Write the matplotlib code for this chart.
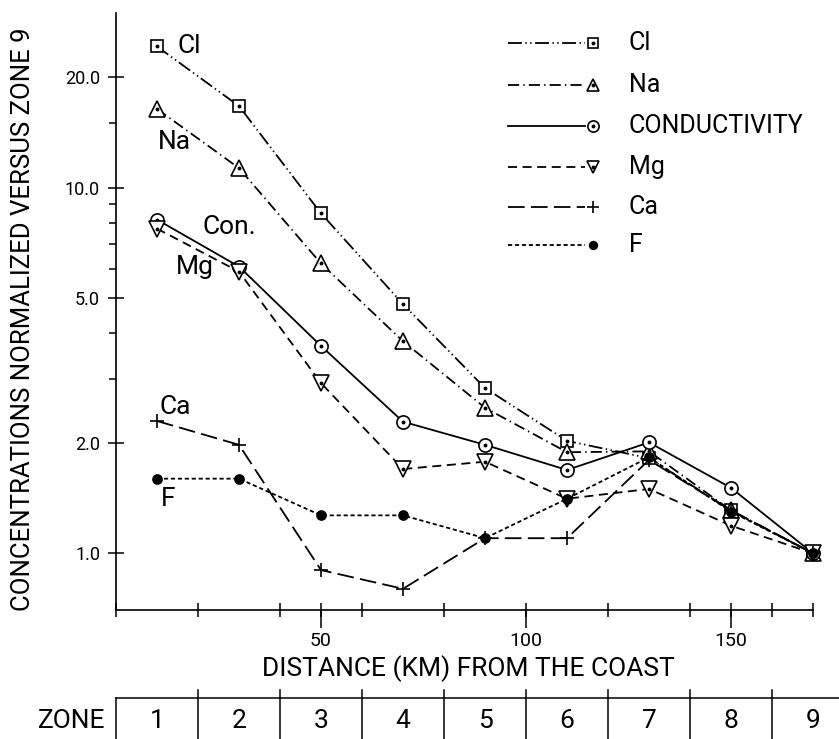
#!/usr/bin/env python3
"""
Concentrations normalized versus zone 9 against distance from the coast.
"""
import matplotlib
matplotlib.use('Agg')  # Non-interactive backend
import matplotlib.pyplot as plt
from matplotlib.lines import Line2D
from matplotlib.ticker import NullFormatter
from matplotlib.transforms import blended_transform_factory

# Data
distance = [10, 30, 50, 70, 90, 110, 130, 150, 170]
cl = [24.3, 16.7, 8.5, 4.8, 2.83, 2.03, 1.82, 1.31, 1.0]
na = [16.4, 11.3, 6.2, 3.8, 2.5, 1.89, 1.9, 1.31, 1.0]
cond = [8.17, 6.08, 3.69, 2.29, 1.98, 1.69, 2.01, 1.51, 1.0]
mg = [7.72, 5.89, 2.92, 1.70, 1.78, 1.41, 1.50, 1.19, 1.0]
ca = [2.30, 1.98, 0.90, 0.80, 1.10, 1.10, 1.80, 1.31, 1.0]
f = [1.60, 1.60, 1.27, 1.27, 1.10, 1.41, 1.83, 1.30, 1.0]

names = ['Cl', 'Na', 'CONDUCTIVITY', 'Mg', 'Ca', 'F']
short_names = ['Cl', 'Na', 'Con.', 'Mg', 'Ca', 'F']

zone_names = ['1', '2', '3', '4', '5', '6', '7', '8', '9']
zone_edges = [0, 20, 40, 60, 80, 100, 120, 140, 160]

y_major = [1, 2, 5, 10, 20]
y_major_labels = ['1.0', '2.0', '5.0', '10.0', '20.0']
y_minor = [3, 4, 6, 7, 8, 9, 15]
x_major = [50, 100, 150]
x_minor = [0, 20, 40, 50, 60, 80, 100, 120, 140, 150, 160, 170]

plt.rcParams['font.family'] = ['Roboto', 'DejaVu Sans']
plt.rcParams['lines.scale_dashes'] = False

W, H = 839, 739


def fx(px):
    return px / W


def fy(py):
    return 1 - py / H


fig = plt.figure(figsize=(W / 100, H / 100), dpi=100)
ax = fig.add_axes([fx(116), fy(610), fx(813) - fx(116), fy(13) - fy(610)])
ax.set_yscale('log')
ax.set_xlim(0, 170)
ax.set_ylim(0.7, 30)

for side in ['top', 'right']:
    ax.spines[side].set_visible(False)
for side in ['left', 'bottom']:
    ax.spines[side].set_linewidth(1.2)

ax.set_yticks(y_major)
ax.set_yticklabels(y_major_labels)
ax.set_yticks(y_minor, minor=True)
ax.yaxis.set_minor_formatter(NullFormatter())
ax.set_xticks(x_major)
ax.set_xticks(x_minor, minor=True)
ax.xaxis.remove_overlapping_locs = False
ax.tick_params(axis='y', which='major', direction='inout', length=12, width=1.1,
               pad=5.5, labelsize=13)
ax.tick_params(axis='y', which='minor', direction='out', length=5, width=1.1)
ax.tick_params(axis='x', which='major', direction='out', length=13, width=1.1,
               pad=3, labelsize=14)
ax.tick_params(axis='x', which='minor', direction='inout', length=10, width=1.1)

styles = [
    dict(ls=(0, (10, 2.5, 1, 2.5, 1, 2.5)), marker='s', ms=9, dot=True),
    dict(ls=(0, (8, 3, 1, 3)), marker='^', ms=11, dot=True),
    dict(ls='-', marker='o', ms=9.5, dot=True),
    dict(ls=(0, (6.5, 4)), marker='v', ms=11, dot=True),
    dict(ls=(0, (12, 4.5)), marker='+', ms=10, dot=False),
    dict(ls=(0, (3, 2)), marker='o', ms=6.5, dot=False),
]
values = [cl, na, cond, mg, ca, f]

for vals, st in zip(values, styles):
    face = 'black' if st['marker'] == 'o' and not st['dot'] else 'white'
    ax.plot(distance, vals, color='black', lw=1.3, ls=st['ls'],
            marker=st['marker'], ms=st['ms'], mfc=face, mec='black', mew=1.2,
            clip_on=False)
    if st['dot']:
        ax.plot(distance, vals, ls='none', marker='o', ms=1.8, color='black',
                clip_on=False)

# Series labels next to the curves
label_pos = [(14.9, 24.3), (10.2, 13.3), (21.0, 7.8), (14.6, 6.08), (10.5, 2.51), (11.0, 1.406)]
for name, (lx, ly) in zip(short_names, label_pos):
    ax.text(lx, ly, name, fontsize=19, ha='left', va='center')

# Legend drawn by hand: marker at the right end of the line
legend_rows = [43, 85, 126, 167, 207, 245]
for name, st, ypx in zip(names, styles, legend_rows):
    fig.add_artist(Line2D([fx(508), fx(585)], [fy(ypx), fy(ypx)], color='black',
                          lw=1.3, ls=st['ls']))
    face = 'black' if st['marker'] == 'o' and not st['dot'] else 'white'
    ms = st['ms'] * 0.85
    fig.add_artist(Line2D([fx(593)], [fy(ypx)], ls='none', marker=st['marker'],
                          ms=ms, mfc=face, mec='black', mew=1.2))
    if st['dot']:
        fig.add_artist(Line2D([fx(593)], [fy(ypx)], ls='none', marker='o',
                              ms=1.8, color='black'))
    fig.text(fx(629), fy(ypx), name, fontsize=18, ha='left', va='center')

# Axis titles
fig.text(fx(23), fy(319), 'CONCENTRATIONS NORMALIZED VERSUS ZONE 9',
         rotation=90, fontsize=18.5, ha='center', va='center')
fig.text(fx(468), fy(669), 'DISTANCE (KM) FROM THE COAST',
         fontsize=19, ha='center', va='center')

# Zone strip below the axis
trans = blended_transform_factory(ax.transData, fig.transFigure)
ax.plot([0, 185], [fy(698), fy(698)], color='black', lw=1.1,
        transform=trans, clip_on=False)
for i, edge in enumerate(zone_edges):
    top = fy(698) if i == 0 else fy(690)
    ax.plot([edge, edge], [top, fy(760)], color='black', lw=1.1,
            transform=trans, clip_on=False)
for i, zone in enumerate(zone_names):
    ax.text(distance[i], fy(721), zone, fontsize=19, ha='center', va='center',
            transform=trans)
fig.text(fx(105), fy(721), 'ZONE', fontsize=19, ha='right', va='center')

fig.savefig('out.png', dpi=100)
